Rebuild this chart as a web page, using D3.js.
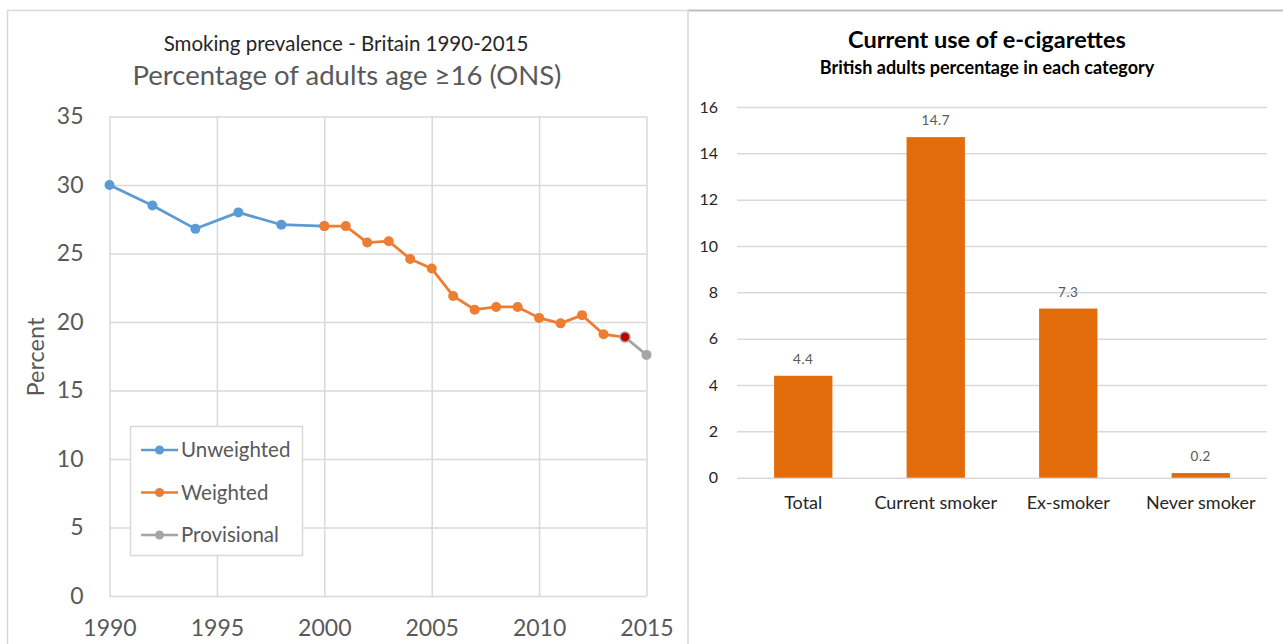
<!DOCTYPE html>
<html>
<head>
<meta charset="utf-8">
<script src="https://cdn.jsdelivr.net/npm/d3@7/dist/d3.min.js"></script>
<style>
  html, body { margin: 0; padding: 0; background: #fff; }
  svg { display: block; font-family: Lato, "Open Sans", sans-serif; }
</style>
</head>
<body>
<svg id="chart" width="1283" height="644"></svg>
<script>
// Smoking prevalence, adults 16+, Britain (ONS)
const unweightedYears  = [1990, 1992, 1994, 1996, 1998, 2000];
const unweightedValues = [30.0, 28.5, 26.8, 28.0, 27.1, 27.0];
const weightedYears    = [2000, 2001, 2002, 2003, 2004, 2005, 2006, 2007, 2008, 2009, 2010, 2011, 2012, 2013, 2014];
const weightedValues   = [27.0, 27.0, 25.8, 25.9, 24.6, 23.9, 21.9, 20.9, 21.1, 21.1, 20.3, 19.9, 20.5, 19.1, 18.9];
const provisionalYears  = [2014, 2015];
const provisionalValues = [18.9, 17.6];
const yearTicks    = [1990, 1995, 2000, 2005, 2010, 2015];
const percentTicks = [0, 5, 10, 15, 20, 25, 30, 35];

// Current use of e-cigarettes by smoking status
const ecigCategories = ["Total", "Current smoker", "Ex-smoker", "Never smoker"];
const ecigValues     = [4.4, 14.7, 7.3, 0.2];
const ecigTicks      = [0, 2, 4, 6, 8, 10, 12, 14, 16];

const svg = d3.select("#chart");
const GRID = "#d9d9d9";
const TEXT = "#595959";

// panel frames
const frame = svg.append("g").attr("fill", "none");
frame.append("line").attr("x1", 7).attr("x2", 688).attr("y1", 10.5).attr("y2", 10.5).attr("stroke", "#d9d9d9").attr("stroke-width", 1.5);
frame.append("line").attr("x1", 688).attr("x2", 1283).attr("y1", 10.5).attr("y2", 10.5).attr("stroke", "#bfbfbf").attr("stroke-width", 2);
frame.append("line").attr("x1", 7.5).attr("x2", 7.5).attr("y1", 10).attr("y2", 644).attr("stroke", "#d9d9d9").attr("stroke-width", 1.5);
frame.append("line").attr("x1", 688).attr("x2", 688).attr("y1", 10).attr("y2", 644).attr("stroke", "#d9d9d9").attr("stroke-width", 1.5);

// ---------- left: prevalence line chart ----------
const xL = d3.scaleLinear().domain([1990, 2015]).range([109.5, 646.5]);
const yL = d3.scaleLinear().domain([0, 35]).range([596, 116.5]);
const left = svg.append("g");

left.append("text").attr("x", 346).attr("y", 51).attr("text-anchor", "middle")
  .attr("font-size", 20.5).attr("fill", "#262626").text("Smoking prevalence - Britain 1990-2015");
left.append("text").attr("x", 347).attr("y", 85).attr("text-anchor", "middle")
  .attr("font-size", 27.5).attr("fill", TEXT).text("Percentage of adults age \u226516 (ONS)");

// gridlines via axes
left.append("g").attr("transform", `translate(${xL(1990)},0)`)
  .call(d3.axisLeft(yL).tickValues(percentTicks).tickSize(-(xL(2015) - xL(1990))).tickFormat(""))
  .call(g => g.select(".domain").remove())
  .call(g => g.selectAll("line").attr("stroke", GRID).attr("stroke-width", 1.5));
left.append("g").attr("transform", `translate(0,${yL(0)})`)
  .call(d3.axisBottom(xL).tickValues(yearTicks).tickSize(-(yL(0) - yL(35))).tickFormat(""))
  .call(g => g.select(".domain").remove())
  .call(g => g.selectAll("line").attr("stroke", GRID).attr("stroke-width", 1.5));

// tick labels
left.append("g").attr("transform", `translate(${xL(1990)},0)`)
  .call(d3.axisLeft(yL).tickValues(percentTicks).tickSize(0).tickPadding(26))
  .call(g => g.select(".domain").remove())
  .call(g => g.selectAll("text").attr("font-family", "Lato, sans-serif").attr("font-size", 23).attr("fill", TEXT));
left.append("g").attr("transform", `translate(0,${yL(0)})`)
  .call(d3.axisBottom(xL).tickValues(yearTicks).tickSize(0).tickPadding(24).tickFormat(d3.format("d")))
  .call(g => g.select(".domain").remove())
  .call(g => g.selectAll("text").attr("font-family", "Lato, sans-serif").attr("font-size", 23).attr("fill", TEXT));

left.append("text").attr("transform", "translate(44,357) rotate(-90)").attr("text-anchor", "middle")
  .attr("font-size", 23.5).attr("fill", TEXT).text("Percent");

const line = d3.line().x(d => xL(d[0])).y(d => yL(d[1]));
const series = [
  { name: "Unweighted", color: "#5b9bd5", pts: d3.zip(unweightedYears, unweightedValues) },
  { name: "Weighted", color: "#ed7d31", pts: d3.zip(weightedYears, weightedValues) },
  { name: "Provisional", color: "#a5a5a5", pts: d3.zip(provisionalYears, provisionalValues) }
];
series.forEach(s => {
  left.append("path").datum(s.pts).attr("d", line).attr("fill", "none")
    .attr("stroke", s.color).attr("stroke-width", 2.75).attr("stroke-linejoin", "round");
  left.append("g").selectAll("circle").data(s.pts).join("circle")
    .attr("cx", d => xL(d[0])).attr("cy", d => yL(d[1])).attr("r", 5)
    .attr("fill", (d, i) => (s.name === "Provisional" && i === 0) ? "#c00000" : s.color)
    .attr("stroke", (d, i) => (s.name === "Provisional" && i === 0) ? "#a5a5a5" : "none")
    .attr("stroke-width", 1.5);
});

// legend
const legend = left.append("g");
legend.append("rect").attr("x", 130.5).attr("y", 426.5).attr("width", 172).attr("height", 129)
  .attr("fill", "#fff").attr("stroke", GRID).attr("stroke-width", 1.5);
series.forEach((s, i) => {
  const y = 450 + i * 42.5;
  legend.append("line").attr("x1", 141).attr("x2", 178).attr("y1", y).attr("y2", y)
    .attr("stroke", s.color).attr("stroke-width", 2.5);
  legend.append("circle").attr("cx", 159.5).attr("cy", y).attr("r", 4.5).attr("fill", s.color);
  legend.append("text").attr("x", 181).attr("y", y).attr("dy", "0.35em")
    .attr("font-size", 20.5).attr("fill", TEXT).text(s.name);
});

// ---------- right: e-cigarette bar chart ----------
const xR = d3.scaleBand().domain(ecigCategories).range([737, 1267]).paddingInner(0.56).paddingOuter(0.28);
const yR = d3.scaleLinear().domain([0, 16]).range([477.7, 107]);
const right = svg.append("g");

right.append("text").attr("x", 987).attr("y", 48).attr("text-anchor", "middle")
  .attr("font-size", 23.5).attr("font-weight", 700).attr("fill", "#000").text("Current use of e-cigarettes");
right.append("text").attr("x", 987).attr("y", 74).attr("text-anchor", "middle")
  .attr("font-size", 18).attr("font-weight", 700).attr("fill", "#000").text("British adults percentage in each category");

right.append("g").attr("transform", "translate(737,0)")
  .call(d3.axisLeft(yR).tickValues(ecigTicks).tickSize(-530).tickPadding(19))
  .call(g => g.select(".domain").remove())
  .call(g => g.selectAll("line").attr("stroke", GRID).attr("stroke-width", 1.5))
  .call(g => g.selectAll("text").attr("font-family", "Lato, sans-serif").attr("font-size", 16).attr("fill", "#262626"));

right.append("g").selectAll("rect").data(ecigValues).join("rect")
  .attr("x", (d, i) => xR(ecigCategories[i])).attr("width", xR.bandwidth())
  .attr("y", d => yR(d)).attr("height", d => yR(0) - yR(d))
  .attr("fill", "#e36c0a");

right.append("g").selectAll("text").data(ecigValues).join("text")
  .attr("x", (d, i) => xR(ecigCategories[i]) + xR.bandwidth() / 2)
  .attr("y", d => yR(d) - 12).attr("text-anchor", "middle")
  .attr("font-size", 13.5).attr("letter-spacing", 0.5).attr("fill", TEXT).text(d => d.toFixed(1));

right.append("g").attr("transform", `translate(0,${yR(0)})`)
  .call(d3.axisBottom(xR).tickSize(0).tickPadding(19))
  .call(g => g.select(".domain").remove())
  .call(g => g.selectAll("text").attr("font-family", "Lato, sans-serif").attr("font-size", 18).attr("fill", "#262626"));
</script>
</body>
</html>
